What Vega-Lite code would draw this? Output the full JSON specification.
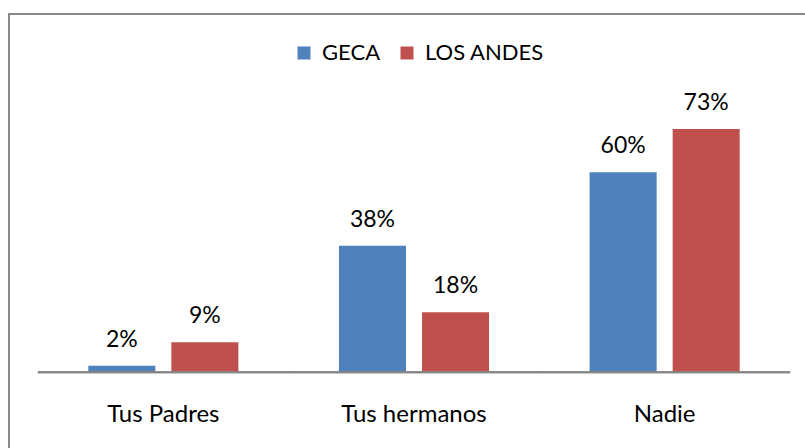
{
  "$schema": "https://vega.github.io/schema/vega-lite/v6.json",
  "width": 810,
  "height": 445,
  "padding": {"left": 9, "top": 14, "right": 0, "bottom": 0},
  "background": "white",
  "config": {
    "view": {"stroke": "#898989", "strokeWidth": 2, "fill": "white"},
    "font": "Lato"
  },
  "data": {
    "values": [
      {"categoria": "Tus Padres", "grupo": "GECA", "valor": 0.02},
      {"categoria": "Tus Padres", "grupo": "LOS ANDES", "valor": 0.09},
      {"categoria": "Tus hermanos", "grupo": "GECA", "valor": 0.38},
      {"categoria": "Tus hermanos", "grupo": "LOS ANDES", "valor": 0.18},
      {"categoria": "Nadie", "grupo": "GECA", "valor": 0.60},
      {"categoria": "Nadie", "grupo": "LOS ANDES", "valor": 0.73}
    ]
  },
  "encoding": {
    "x": {
      "field": "categoria",
      "type": "nominal",
      "sort": ["Tus Padres", "Tus hermanos", "Nadie"],
      "scale": {"paddingInner": 0, "paddingOuter": 0.1158},
      "axis": {
        "title": null,
        "orient": "bottom",
        "offset": -87,
        "domain": false,
        "ticks": false,
        "labelAngle": 0,
        "labelFont": "Lato",
        "labelFontSize": 24,
        "labelColor": "#000000",
        "labelBaseline": "alphabetic",
        "labelPadding": 49
      }
    }
  },
  "layer": [
    {
      "mark": {"type": "bar"},
      "encoding": {
        "xOffset": {
          "field": "grupo",
          "type": "nominal",
          "scale": {"paddingInner": 0.193, "paddingOuter": 0.6055}
        },
        "y": {
          "field": "valor",
          "type": "quantitative",
          "scale": {"domain": [-0.26, 1.075], "nice": false, "zero": false},
          "axis": null
        },
        "color": {
          "field": "grupo",
          "type": "nominal",
          "scale": {"domain": ["GECA", "LOS ANDES"], "range": ["#4F81BD", "#C0504D"]},
          "legend": {
            "title": null,
            "orient": "none",
            "legendX": 284,
            "legendY": 28,
            "direction": "horizontal",
            "symbolType": "square",
            "symbolSize": 169,
            "symbolStrokeWidth": 0,
            "labelFont": "Lato",
            "labelFontSize": 22,
            "labelColor": "#000000",
            "labelOffset": 7,
            "columnPadding": 15
          }
        }
      }
    },
    {
      "mark": {"type": "text", "baseline": "alphabetic", "dy": -19, "font": "Lato", "fontSize": 23, "color": "#000000"},
      "encoding": {
        "xOffset": {
          "field": "grupo",
          "type": "nominal",
          "scale": {"paddingInner": 0.193, "paddingOuter": 0.6055}
        },
        "y": {"field": "valor", "type": "quantitative"},
        "text": {"field": "valor", "type": "quantitative", "format": ".0%"}
      }
    },
    {
      "mark": {"type": "tick", "size": 251, "thickness": 2, "color": "#868686", "opacity": 1},
      "encoding": {
        "y": {"datum": 0, "type": "quantitative"}
      }
    }
  ]
}
